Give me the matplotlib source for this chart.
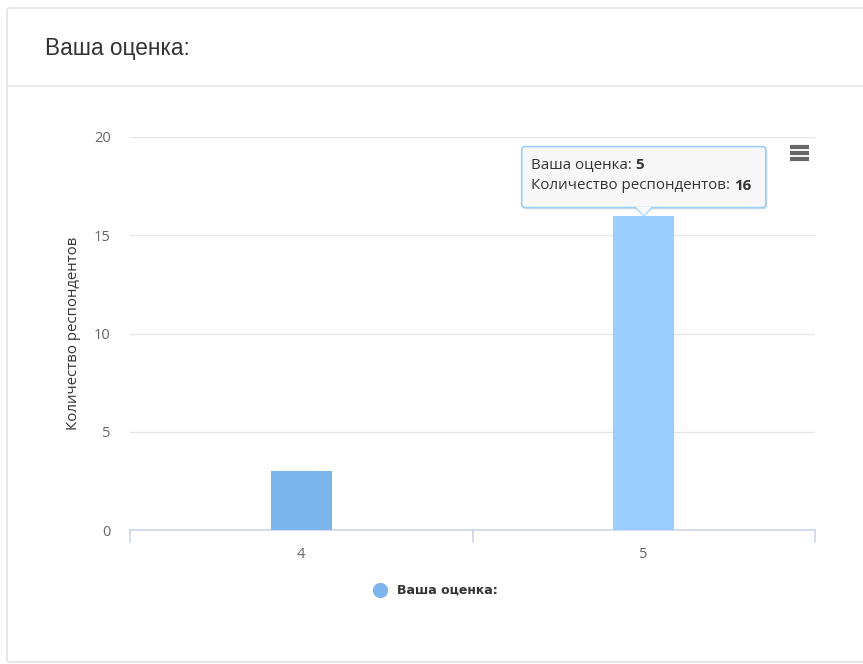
import matplotlib
matplotlib.use("Agg")
import matplotlib.pyplot as plt
from matplotlib.patches import FancyBboxPatch, Polygon
from matplotlib.lines import Line2D

categories = ["4", "5"]
counts = [3, 16]
bar_colors = ["#7cb5ec", "#99ceff"]
y_ticks = [0, 5, 10, 15, 20]
title = "Ваша оценка:"
y_label = "Количество респондентов"
legend_label = "Ваша оценка:"
hover = 1  # index of the hovered bar

W, H = 863, 664
fig = plt.figure(figsize=(W / 100, H / 100), dpi=100)
fig.patch.set_facecolor("white")

def fx(px):
    return px / W

def fy(py):
    return 1 - py / H

# panel frame and header
fig.patches.append(FancyBboxPatch((fx(7), fy(662)), fx(860), fy(8) - fy(662),
                                  boxstyle="round,pad=0,rounding_size=0.004",
                                  transform=fig.transFigure, fc="white", ec="#e3e3e3",
                                  lw=1.2, zorder=-5))
fig.lines.append(Line2D([fx(7), 1], [fy(86), fy(86)], transform=fig.transFigure,
                        color="#e6e6e6", lw=1.2, zorder=-4))
fig.text(fx(45), fy(48), title, fontsize=16.3, color="#333333",
         family="Liberation Sans", va="center", ha="left")

ax = fig.add_axes([fx(130), fy(530), fx(815) - fx(130), fy(137) - fy(530)])
ax.set_facecolor("none")
x = list(range(len(categories)))
ax.bar(x, counts, width=0.177, color=bar_colors, zorder=3)
ax.set_xlim(-0.5, len(categories) - 0.5)
ax.set_ylim(0, 20)
ax.set_yticks(y_ticks)
ax.grid(axis="y", color="#e6e6e6", lw=1, zorder=0)
for s in ["top", "right", "left"]:
    ax.spines[s].set_visible(False)
ax.spines["bottom"].set_color("#ccd6eb")
ax.spines["bottom"].set_linewidth(1.2)
ax.tick_params(axis="y", length=0, pad=14, labelsize=10.5, labelcolor="#666666")
ax.set_xticks(x)
ax.set_xticklabels(categories)
ax.tick_params(axis="x", length=0, pad=12, labelsize=10.5, labelcolor="#666666")
for b in [i - 0.5 for i in range(len(categories) + 1)]:
    ax.plot([b, b], [0, -0.6], color="#ccd6eb", lw=1.2, clip_on=False)
for lab in ax.get_xticklabels() + ax.get_yticklabels():
    lab.set_family("Open Sans")
ax.set_ylabel(y_label, fontsize=10.8, color="#333333", family="Open Sans", labelpad=9)

# tooltip on hovered bar (pixel coords from the data point)
fig.canvas.draw()
px, py = ax.transData.transform((x[hover], counts[hover]))
bw, bh = 244, 61
left, bottom = px - 122, py + 8
for off, col in [(2, "#00000012"), (1, "#00000018")]:
    fig.patches.append(FancyBboxPatch((left + off, bottom - off), bw, bh,
                                      boxstyle="round,pad=0,rounding_size=3",
                                      transform=None, fc=col, ec="none", zorder=5))
fig.patches.append(FancyBboxPatch((left, bottom), bw, bh, boxstyle="round,pad=0,rounding_size=3",
                                  transform=None, fc="#f7f7f7", ec="#99ceff", lw=1.2, zorder=6))
fig.patches.append(Polygon([(px - 8, bottom + 0.8), (px, py), (px + 8, bottom + 0.8)], closed=True,
                           transform=None, fc="#f7f7f7", ec="none", zorder=7))
fig.lines.append(Line2D([px - 8, px, px + 8], [bottom, py, bottom], transform=None,
                        color="#99ceff", lw=1.2, zorder=7))

rows = [("Ваша оценка: ", categories[hover], bh - 18),
        ("Количество респондентов: ", str(counts[hover]), bh - 39)]
for lab, val, dy in rows:
    t = fig.text((left + 9) / W, (bottom + dy) / H, lab, fontsize=10.9, color="#333333",
                 family="Open Sans", va="center", zorder=8)
    fig.canvas.draw()
    bb = t.get_window_extent()
    fig.text(bb.x1 / W, (bottom + dy) / H, val, fontsize=10.9, color="#333333",
             family="Open Sans", weight="bold", va="center", zorder=8)

# menu icon
for yy in [147, 153, 159]:
    fig.lines.append(Line2D([fx(790), fx(809)], [fy(yy), fy(yy)], transform=fig.transFigure,
                            color="#666666", lw=3, solid_capstyle="butt"))

# legend
fig.lines.append(Line2D([fx(380)], [fy(590)], transform=fig.transFigure, marker="o",
                        markersize=10, color=bar_colors[0], ls="none"))
fig.text(fx(397), fy(590), legend_label, fontsize=9, weight="bold", color="#333333",
         family="DejaVu Sans", va="center", ha="left")

fig.savefig("out.png", dpi=100)
